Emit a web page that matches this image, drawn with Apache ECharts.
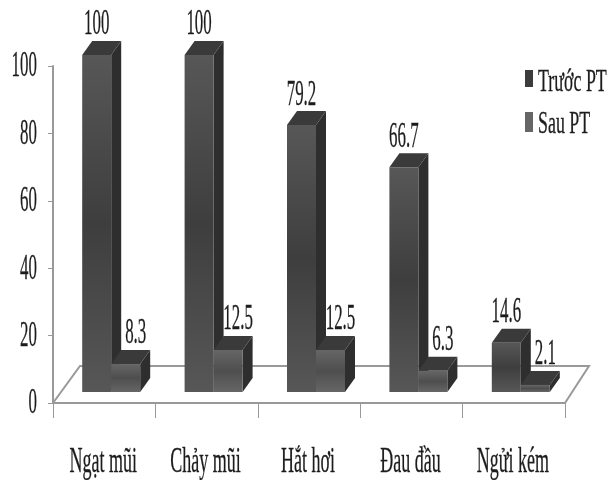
<!DOCTYPE html>
<html>
<head>
<meta charset="utf-8">
<style>
  html, body { margin: 0; background: #fff; }
  #chart { width: 610px; height: 480px; filter: blur(0.4px); }
</style>
<script src="https://cdn.jsdelivr.net/npm/echarts@6/dist/echarts.min.js"></script>
</head>
<body>
<div id="chart"></div>
<script>
const categories = ["Ngạt mũi", "Chảy mũi", "Hắt hơi", "Đau đầu", "Ngửi kém"];
const truocPT = [100, 100, 79.2, 66.7, 14.6];
const sauPT = [8.3, 12.5, 12.5, 6.3, 2.1];
const yTicks = [0, 20, 40, 60, 80, 100];
const seriesNames = ["Trước PT", "Sau PT"];

const FONT = '"Liberation Serif"';
const TEXT_COLOR = "#1c1c1c";
const BAR_W = 29;
const DEPTH_X = 10;
const DEPTH_Y = 14;
const BASE_UP = 11; // bars stand on the raised floor
const BASE_RIGHT = 7;

function textStyle(text, size, align) {
  return {
    text: text,
    font: size + "px " + FONT,
    fill: TEXT_COLOR,
    stroke: TEXT_COLOR,
    lineWidth: 0.3,
    align: align,
    verticalAlign: "middle",
  };
}

// fake 3d bar: front, side and top faces, plus the value label
function barRenderer(offset, front, labelShift) {
  return (params, api) => {
    const idx = api.value(0);
    const val = api.value(1);
    const top = api.coord([idx, val]);
    const base = api.coord([idx, 0]);
    const x = top[0] + BASE_RIGHT + (offset - 1) * BAR_W;
    const y0 = base[1] - BASE_UP;
    const y1 = top[1] - BASE_UP;
    const shade = {
      type: "linear", x: 0, y: 0, x2: 0, y2: 1,
      colorStops: [
        { offset: 0, color: front[1] },
        { offset: 0.5, color: front[0] },
        { offset: 1, color: front[1] },
      ],
    };
    return {
      type: "group",
      children: [
        { type: "polygon", shape: { points: [[x + BAR_W, y0], [x + BAR_W + DEPTH_X, y0 - DEPTH_Y], [x + BAR_W + DEPTH_X, y1 - DEPTH_Y], [x + BAR_W, y1]] }, style: { fill: "#2e2e2e" } },
        { type: "polygon", shape: { points: [[x, y1], [x + DEPTH_X, y1 - DEPTH_Y], [x + BAR_W + DEPTH_X, y1 - DEPTH_Y], [x + BAR_W, y1]] }, style: { fill: "#3a3a3a" } },
        { type: "rect", shape: { x: x, y: y1, width: BAR_W, height: y0 - y1 }, style: { fill: shade } },
        {
          type: "text", x: x + BAR_W / 2 + labelShift, y: y1 - 30, scaleX: 0.47,
          style: textStyle(String(val), 36, "center"),
        },
      ],
    };
  };
}

const chart = echarts.init(document.getElementById("chart"));
chart.setOption({
  animation: false,
  backgroundColor: "#fff",
  grid: { left: 53, right: 45, top: 66, bottom: 77 },
  xAxis: {
    type: "category",
    data: categories,
    axisLine: { lineStyle: { color: "#999", width: 2 } },
    axisTick: { show: true, length: 15, lineStyle: { color: "#999" } },
    axisLabel: { show: false },
  },
  yAxis: {
    type: "value",
    min: 0,
    max: 100,
    interval: 20,
    splitLine: { show: false },
    axisLine: { show: true, lineStyle: { color: "#999", width: 2 } },
    axisTick: { show: true, length: 5, lineStyle: { color: "#999" } },
    axisLabel: { show: false },
  },
  series: [
    {
      // raised floor outline, behind the bars
      type: "custom",
      silent: true,
      z: 1,
      data: [[0, 0]],
      renderItem: (params, api) => {
        const o = api.coord([0, 0]);
        const end = api.coord([4, 0]);
        const right = end[0] + (end[0] - o[0]) / 8;
        const left = o[0] - (end[0] - o[0]) / 8;
        return {
          type: "polyline",
          shape: { points: [[left, o[1]], [left + 27, o[1] - 37], [right + 24, o[1] - 37], [right, o[1]]] },
          style: { fill: null, stroke: "#999", lineWidth: 2 },
        };
      },
    },
    {
      name: seriesNames[0],
      type: "custom",
      z: 2,
      data: truocPT.map((v, i) => [i, v]),
      renderItem: barRenderer(0, ["#3e3e3e", "#575757"], 0),
    },
    {
      name: seriesNames[1],
      type: "custom",
      z: 3,
      data: sauPT.map((v, i) => [i, v]),
      renderItem: barRenderer(1, ["#4e4e4e", "#666"], 10),
    },
    {
      // category labels, narrowed like the source image
      type: "custom",
      silent: true,
      z: 4,
      data: categories.map((c, i) => [i]),
      renderItem: (params, api) => {
        const i = api.value(0);
        const p = api.coord([i, 0]);
        return {
          type: "text", x: p[0] - 1, y: 463, scaleX: 0.5,
          style: textStyle(categories[i], 36, "center"),
        };
      },
    },
    {
      // y tick labels
      type: "custom",
      silent: true,
      z: 4,
      data: yTicks.map((t) => [0, t]),
      renderItem: (params, api) => {
        const t = api.value(1);
        const p = api.coord([0, t]);
        return {
          type: "text", x: 37, y: p[1] + 1, scaleX: 0.47,
          style: textStyle(String(t), 36, "right"),
        };
      },
    },
  ],
  graphic: [
    { type: "rect", shape: { x: 525, y: 70, width: 8, height: 17 }, style: { fill: "#3c3c3c" } },
    { type: "rect", shape: { x: 525, y: 112, width: 8, height: 20 }, style: { fill: "#666" } },
    { type: "text", x: 538, y: 83, scaleX: 0.56, style: textStyle(seriesNames[0], 32, "left") },
    { type: "text", x: 538, y: 125, scaleX: 0.56, style: textStyle(seriesNames[1], 32, "left") },
  ],
});
</script>
</body>
</html>
